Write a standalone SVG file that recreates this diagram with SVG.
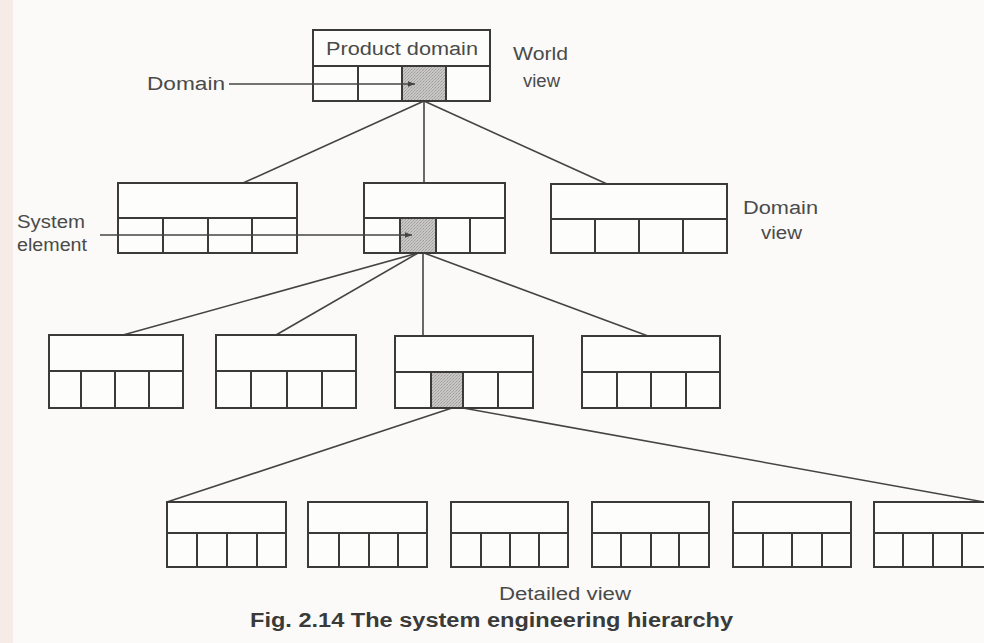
<svg xmlns="http://www.w3.org/2000/svg" width="984" height="643" viewBox="0 0 984 643">
  <defs>
    <pattern id="stipple" width="3" height="3" patternUnits="userSpaceOnUse">
      <rect width="3" height="3" fill="#c9c7c5"/>
      <rect x="0" y="0" width="1" height="1" fill="#9e9c9a"/>
      <rect x="2" y="1" width="1" height="1" fill="#a9a7a5"/>
      <rect x="1" y="2" width="1" height="1" fill="#b0aeac"/>
    </pattern>
    <marker id="arrow" viewBox="0 0 10 10" refX="10" refY="5" markerWidth="8" markerHeight="7" orient="auto" markerUnits="userSpaceOnUse">
      <path d="M0,1 L10,5 L0,9 z" fill="#444"/>
    </marker>
  </defs>
  <style>
    .box { fill: #fdfdfb; stroke: #3a3a3a; stroke-width: 2; }
    .ln { stroke: #3a3a3a; stroke-width: 2; fill: none; }
    .wire { stroke: #444; stroke-width: 1.6; fill: none; }
    .shade { fill: url(#stipple); stroke: #3a3a3a; stroke-width: 2; }
    .lbl { font-family: "Liberation Sans", Arial, sans-serif; font-size: 18px; fill: #4a4a4a; }
    .cap { font-family: "Liberation Sans", Arial, sans-serif; font-size: 20px; font-weight: bold; fill: #3a3a3a; }
  </style>

  <!-- paper -->
  <rect width="984" height="643" fill="#fbfaf8"/>
  <rect width="13" height="643" fill="#f7ebe8"/>

  <!-- tree connectors -->
  <g id="connectors">
    <line class="wire" x1="424" y1="101" x2="243" y2="183"/>
    <line class="wire" x1="424" y1="101" x2="424" y2="183"/>
    <line class="wire" x1="424" y1="101" x2="607" y2="184"/>
    <line class="wire" x1="418" y1="253" x2="123" y2="335"/>
    <line class="wire" x1="418" y1="253" x2="276" y2="335"/>
    <line class="wire" x1="423" y1="253" x2="423" y2="336"/>
    <line class="wire" x1="424" y1="253" x2="648" y2="336"/>
    <line class="wire" x1="452" y1="408" x2="167" y2="502"/>
    <line class="wire" x1="463" y1="408" x2="984" y2="502"/>
  </g>

  <!-- world view -->
  <g id="product-domain">
    <rect class="box" x="313" y="30" width="177" height="71"/>
    <line class="ln" x1="313" y1="66" x2="490" y2="66"/>
    <rect class="shade" x="402" y="66" width="44" height="35"/>
    <line class="ln" x1="358" y1="66" x2="358" y2="101"/>
    <line class="ln" x1="446" y1="66" x2="446" y2="101"/>
    <text class="lbl" x="402" y="55" text-anchor="middle" font-size="20" textLength="152" lengthAdjust="spacingAndGlyphs">Product domain</text>
  </g>
  <g id="world-view-label">
    <text class="lbl" x="513" y="60" textLength="55" lengthAdjust="spacingAndGlyphs">World</text>
    <text class="lbl" x="523" y="87" textLength="37" lengthAdjust="spacingAndGlyphs">view</text>
  </g>
  <g id="domain-label">
    <text class="lbl" x="147" y="90" textLength="78" lengthAdjust="spacingAndGlyphs">Domain</text>
  </g>

  <!-- domain view -->
  <g id="domain-a">
    <rect class="box" x="118" y="183" width="179" height="70"/>
    <line class="ln" x1="118" y1="218" x2="297" y2="218"/>
    <line class="ln" x1="163" y1="218" x2="163" y2="253"/>
    <line class="ln" x1="208" y1="218" x2="208" y2="253"/>
    <line class="ln" x1="252" y1="218" x2="252" y2="253"/>
  </g>
  <g id="domain-b">
    <rect class="box" x="364" y="183" width="141" height="70"/>
    <line class="ln" x1="364" y1="218" x2="505" y2="218"/>
    <rect class="shade" x="400" y="218" width="36" height="35"/>
    <line class="ln" x1="470" y1="218" x2="470" y2="253"/>
  </g>
  <g id="domain-c">
    <rect class="box" x="551" y="184" width="176" height="69"/>
    <line class="ln" x1="551" y1="219" x2="727" y2="219"/>
    <line class="ln" x1="595" y1="219" x2="595" y2="253"/>
    <line class="ln" x1="639" y1="219" x2="639" y2="253"/>
    <line class="ln" x1="683" y1="219" x2="683" y2="253"/>
  </g>
  <g id="domain-view-label">
    <text class="lbl" x="743" y="214" textLength="75" lengthAdjust="spacingAndGlyphs">Domain</text>
    <text class="lbl" x="761" y="239" textLength="41" lengthAdjust="spacingAndGlyphs">view</text>
  </g>
  <g id="system-element-label">
    <text class="lbl" x="17" y="228" textLength="68" lengthAdjust="spacingAndGlyphs">System</text>
    <text class="lbl" x="17" y="251" textLength="70" lengthAdjust="spacingAndGlyphs">element</text>
  </g>

  <!-- element level -->
  <g id="element-a">
    <rect class="box" x="49" y="335" width="134" height="73"/>
    <line class="ln" x1="49" y1="371" x2="183" y2="371"/>
    <line class="ln" x1="81" y1="371" x2="81" y2="408"/>
    <line class="ln" x1="115" y1="371" x2="115" y2="408"/>
    <line class="ln" x1="149" y1="371" x2="149" y2="408"/>
  </g>
  <g id="element-b">
    <rect class="box" x="216" y="335" width="140" height="73"/>
    <line class="ln" x1="216" y1="371" x2="356" y2="371"/>
    <line class="ln" x1="251" y1="371" x2="251" y2="408"/>
    <line class="ln" x1="287" y1="371" x2="287" y2="408"/>
    <line class="ln" x1="322" y1="371" x2="322" y2="408"/>
  </g>
  <g id="element-c">
    <rect class="box" x="395" y="336" width="138" height="72"/>
    <line class="ln" x1="395" y1="372" x2="533" y2="372"/>
    <rect class="shade" x="431" y="372" width="32" height="36"/>
    <line class="ln" x1="498" y1="372" x2="498" y2="408"/>
  </g>
  <g id="element-d">
    <rect class="box" x="582" y="336" width="138" height="72"/>
    <line class="ln" x1="582" y1="372" x2="720" y2="372"/>
    <line class="ln" x1="617" y1="372" x2="617" y2="408"/>
    <line class="ln" x1="651" y1="372" x2="651" y2="408"/>
    <line class="ln" x1="686" y1="372" x2="686" y2="408"/>
  </g>

  <!-- detailed view -->
  <g id="detail-1">
    <rect class="box" x="167" y="502" width="119" height="65"/>
    <line class="ln" x1="167" y1="533" x2="286" y2="533"/>
    <line class="ln" x1="197" y1="533" x2="197" y2="567"/>
    <line class="ln" x1="227" y1="533" x2="227" y2="567"/>
    <line class="ln" x1="257" y1="533" x2="257" y2="567"/>
  </g>
  <g id="detail-2">
    <rect class="box" x="308" y="502" width="119" height="65"/>
    <line class="ln" x1="308" y1="533" x2="427" y2="533"/>
    <line class="ln" x1="339" y1="533" x2="339" y2="567"/>
    <line class="ln" x1="369" y1="533" x2="369" y2="567"/>
    <line class="ln" x1="398" y1="533" x2="398" y2="567"/>
  </g>
  <g id="detail-3">
    <rect class="box" x="451" y="502" width="117" height="65"/>
    <line class="ln" x1="451" y1="533" x2="568" y2="533"/>
    <line class="ln" x1="481" y1="533" x2="481" y2="567"/>
    <line class="ln" x1="510" y1="533" x2="510" y2="567"/>
    <line class="ln" x1="539" y1="533" x2="539" y2="567"/>
  </g>
  <g id="detail-4">
    <rect class="box" x="592" y="502" width="117" height="65"/>
    <line class="ln" x1="592" y1="533" x2="709" y2="533"/>
    <line class="ln" x1="621" y1="533" x2="621" y2="567"/>
    <line class="ln" x1="651" y1="533" x2="651" y2="567"/>
    <line class="ln" x1="679" y1="533" x2="679" y2="567"/>
  </g>
  <g id="detail-5">
    <rect class="box" x="733" y="502" width="118" height="65"/>
    <line class="ln" x1="733" y1="533" x2="851" y2="533"/>
    <line class="ln" x1="763" y1="533" x2="763" y2="567"/>
    <line class="ln" x1="792" y1="533" x2="792" y2="567"/>
    <line class="ln" x1="822" y1="533" x2="822" y2="567"/>
  </g>
  <g id="detail-6">
    <rect class="box" x="874" y="502" width="130" height="65"/>
    <line class="ln" x1="874" y1="533" x2="984" y2="533"/>
    <line class="ln" x1="903" y1="533" x2="903" y2="567"/>
    <line class="ln" x1="933" y1="533" x2="933" y2="567"/>
    <line class="ln" x1="962" y1="533" x2="962" y2="567"/>
  </g>
  <g id="detailed-view-label">
    <text class="lbl" x="565" y="600" text-anchor="middle" textLength="132" lengthAdjust="spacingAndGlyphs">Detailed view</text>
  </g>

  <!-- label pointers run across the cells, so they sit above the boxes -->
  <g id="pointers">
    <line class="wire" x1="229" y1="84" x2="415" y2="84" marker-end="url(#arrow)"/>
    <line class="wire" x1="100" y1="235" x2="412" y2="235" marker-end="url(#arrow)"/>
  </g>

  <!-- caption -->
  <text class="cap" x="250" y="627" textLength="483" lengthAdjust="spacingAndGlyphs">Fig. 2.14 The system engineering hierarchy</text>
</svg>
